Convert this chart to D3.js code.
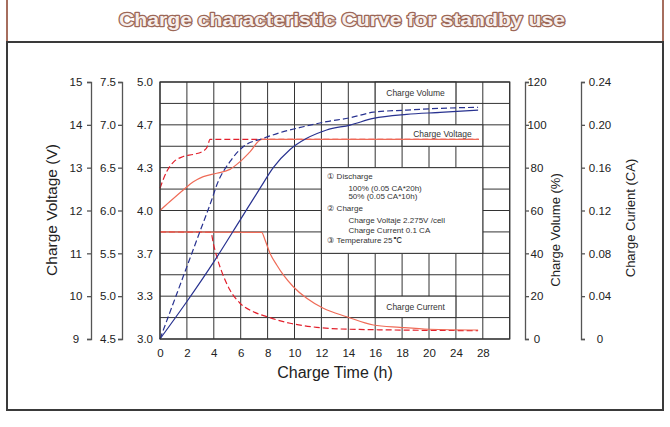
<!DOCTYPE html>
<html>
<head>
<meta charset="utf-8">
<script src="https://cdn.jsdelivr.net/npm/d3@7/dist/d3.min.js"></script>
<style>
  html, body { margin: 0; padding: 0; background: #fff; }
  svg { display: block; font-family: "Liberation Sans", Arial, sans-serif; }
</style>
</head>
<body>
<svg id="chart" width="670" height="427"></svg>
<script>
// ---------- data ----------
const titleText = "Charge characteristic Curve for standby use";
const hourTicks = [0, 2, 4, 6, 8, 10, 12, 14, 16, 18, 20, 24, 28];
const hourGrid = [0, 2, 4, 6, 8, 10, 12, 14, 16, 18, 20, 24, 28, 32];
const voltTicks = [9, 10, 11, 12, 13, 14, 15];
const volt6Ticks = [4.5, 5.0, 5.5, 6.0, 6.5, 7.0, 7.5];
const cellTickLabels = ["3.0", "3.3", "3.7", "4.0", "4.3", "4.7", "5.0"];
const pctTicks = [0, 20, 40, 60, 80, 100, 120];
const pctGrid = [0, 10, 20, 30, 40, 50, 60, 70, 80, 90, 100, 110, 120];
const caTicks = [0, 0.04, 0.08, 0.12, 0.16, 0.20, 0.24];

// [hours, volts]
const voltage100 = [[0,12.0],[0.74,12.21],[1.73,12.48],[2.48,12.67],[3.22,12.79],[4.22,12.87],[5.2,12.96],[5.95,13.14],[6.69,13.37],[7.56,13.66],[27.4,13.66]];
const voltage50 = [[0,12.52],[0.5,12.91],[1.0,13.13],[1.73,13.26],[2.48,13.31],[3.22,13.39],[3.52,13.49],[3.72,13.66],[27.4,13.66]];
// [hours, CA]
const current100 = [[0,0.1],[7.56,0.0996],[7.81,0.0925],[8.18,0.080],[8.68,0.0691],[9.17,0.0598],[9.91,0.0488],[10.91,0.038],[12.14,0.0287],[13.88,0.0208],[15.86,0.0131],[17.84,0.0109],[20.07,0.0091],[27.3,0.0084]];
const current50 = [[0,0.1],[3.79,0.0996],[3.96,0.0894],[4.22,0.0769],[4.59,0.0629],[5.2,0.0458],[5.95,0.0334],[6.94,0.0255],[7.93,0.0209],[9.67,0.0147],[11.65,0.0109],[14.13,0.0091],[27.3,0.0078]];
// [hours, %]
const volume100 = [[0,0],[2,17.5],[4,36],[6,56],[7,66],[7.5,71],[8.42,80],[9.67,88.5],[10.91,93.7],[12.39,97.6],[14.13,99.9],[15.86,103.0],[18.34,104.9],[21.64,105.8],[27.3,106.9]];
const volume50 = [[0,0],[1,16.9],[2,33.8],[3,50.7],[3.84,64.9],[4.22,71.9],[5.2,82.8],[6.19,89.8],[7.68,93.7],[9.17,96.8],[10.65,99.1],[12.39,101.5],[14.13,103.3],[15.86,105.9],[18.34,106.9],[21.64,107.7],[27.3,108.2]];

const legendLines = [
  {t: "\u2460 Discharge", indent: 0, dy: 0},
  {t: "100% (0.05 CA*20h)", indent: 1, dy: 12},
  {t: "50% (0.05 CA*10h)", indent: 1, dy: 20},
  {t: "\u2461 Charge", indent: 0, dy: 32},
  {t: "Charge Voltaje  2.275V /cell", indent: 1, dy: 44},
  {t: "Charge Current 0.1 CA", indent: 1, dy: 54},
  {t: "\u2462 Temperature 25\u2103", indent: 0, dy: 64}
];

// ---------- layout ----------
const svg = d3.select("#chart");
const L = 160, R = 509.7, T = 82, B = 339;
const colW = (R - L) / 13;

const x = d3.scaleLinear().domain([0, 20, 32]).range([L, L + 10 * colW, R]);
const yPct = d3.scaleLinear().domain([0, 120]).range([B, T]);
const yV = d3.scaleLinear().domain([9, 15]).range([B, T]);
const yV6 = d3.scaleLinear().domain([4.5, 7.5]).range([B, T]);
const yCell = d3.scalePoint().domain(cellTickLabels).range([B, T]);
const yCA = d3.scaleLinear().domain([0, 0.24]).range([B, T]);

const frameDark = "#3a3a3a", brown = "#a66e5e";

// frame
svg.append("line").attr("x1", 7).attr("x2", 7).attr("y1", 0).attr("y2", 42).attr("stroke", brown).attr("stroke-width", 2);
svg.append("line").attr("x1", 663).attr("x2", 663).attr("y1", 0).attr("y2", 42).attr("stroke", brown).attr("stroke-width", 2);
svg.append("rect").attr("x", 7).attr("y", 42).attr("width", 656).attr("height", 368)
  .attr("fill", "none").attr("stroke", frameDark).attr("stroke-width", 2);

// title
svg.append("text").attr("x", 342).attr("y", 26).attr("text-anchor", "middle")
  .attr("font-size", 18.5).attr("font-weight", "bold")
  .attr("textLength", 446).attr("lengthAdjust", "spacingAndGlyphs")
  .attr("fill", "#f7efec").attr("stroke", "#9c6757").attr("stroke-width", 2.4)
  .attr("stroke-linejoin", "round")
  .attr("paint-order", "stroke")
  .text(titleText);

// grid
const grid = svg.append("g").attr("stroke", "#333").attr("stroke-width", 1);
grid.selectAll("line.v").data(hourGrid).join("line")
  .attr("x1", d => x(d)).attr("x2", d => x(d)).attr("y1", T).attr("y2", B);
grid.selectAll("line.h").data(pctGrid).join("line")
  .attr("x1", L).attr("x2", R).attr("y1", d => yPct(d)).attr("y2", d => yPct(d));

// label boxes (cover grid)
function box(h0, h1, p0, p1) {
  svg.append("rect").attr("x", x(h0)).attr("y", yPct(p1))
    .attr("width", x(h1) - x(h0)).attr("height", yPct(p0) - yPct(p1))
    .attr("fill", "#fff").attr("stroke", "#333").attr("stroke-width", 1);
}
box(16, 24, 110, 120);
box(18, 28, 90, 100);
box(16, 24, 10, 20);
box(12, 28, 40, 80);

const smallFont = 8.5;
svg.append("text").attr("x", (x(16) + x(24)) / 2).attr("y", (yPct(110) + yPct(120)) / 2 + 3)
  .attr("text-anchor", "middle").attr("font-size", smallFont).attr("fill", "#333").text("Charge Volume");
svg.append("text").attr("x", (x(18) + x(28)) / 2).attr("y", (yPct(90) + yPct(100)) / 2 + 1)
  .attr("text-anchor", "middle").attr("font-size", smallFont).attr("fill", "#333").text("Charge Voltage");
svg.append("text").attr("x", (x(16) + x(24)) / 2).attr("y", (yPct(10) + yPct(20)) / 2 + 3)
  .attr("text-anchor", "middle").attr("font-size", smallFont).attr("fill", "#333").text("Charge Current");

// legend
const lg = svg.append("g").attr("transform", `translate(${x(12) + 6},${yPct(80) + 11})`);
lg.selectAll("text").data(legendLines).join("text")
  .attr("x", d => d.indent ? 21 : 0).attr("y", d => d.dy)
  .attr("font-size", 8).attr("fill", "#333").text(d => d.t);

// curves
const lineGen = (ys) => d3.line().x(d => x(d[0])).y(d => ys(d[1])).curve(d3.curveMonotoneX);
const redSolid = "#ef6b57", redDash = "#e2202c", blue = "#283290";
const curves = svg.append("g").attr("fill", "none").attr("stroke-width", 1.2);
curves.append("path").attr("d", lineGen(yCA)(current50)).attr("stroke", redDash).attr("stroke-dasharray", "6,3");
curves.append("path").attr("d", lineGen(yCA)(current100)).attr("stroke", redSolid);
curves.append("path").attr("d", lineGen(yV)(voltage50)).attr("stroke", redDash).attr("stroke-dasharray", "6,3");
curves.append("path").attr("d", lineGen(yV)(voltage100)).attr("stroke", redSolid);
curves.append("path").attr("d", lineGen(yPct)(volume50)).attr("stroke", blue).attr("stroke-dasharray", "6,3");
curves.append("path").attr("d", lineGen(yPct)(volume100)).attr("stroke", blue);

// plot border
svg.append("rect").attr("x", L).attr("y", T).attr("width", R - L).attr("height", B - T)
  .attr("fill", "none").attr("stroke", "#333").attr("stroke-width", 1.2);

// axes
function styleAxis(g, anchor, dx) {
  g.selectAll("path.domain").attr("stroke", "#555").attr("stroke-width", 1.3);
  g.selectAll(".tick line").attr("stroke", "#555").attr("stroke-width", 1.3);
  g.selectAll(".tick text").attr("text-anchor", anchor).attr("x", dx)
    .attr("font-size", 11.5).attr("fill", "#222").attr("font-family", "Liberation Sans, Arial, sans-serif");
}
const ax1 = svg.append("g").attr("transform", "translate(91,0)")
  .call(d3.axisLeft(yV).tickValues(voltTicks).tickSize(4).tickFormat(d3.format("d")));
styleAxis(ax1, "middle", -15);
const ax2 = svg.append("g").attr("transform", "translate(122,0)")
  .call(d3.axisLeft(yV6).tickValues(volt6Ticks).tickSize(4).tickFormat(d3.format(".1f")));
styleAxis(ax2, "middle", -14);
const ax3 = svg.append("g").attr("transform", `translate(${L},0)`)
  .call(d3.axisLeft(yCell).tickSize(0));
ax3.select("path.domain").remove();
styleAxis(ax3, "middle", -15);
const ax4 = svg.append("g").attr("transform", "translate(525,0)")
  .call(d3.axisRight(yPct).tickValues(pctTicks).tickSize(4).tickFormat(d3.format("d")));
styleAxis(ax4, "middle", 12);
const ax5 = svg.append("g").attr("transform", "translate(581,0)")
  .call(d3.axisRight(yCA).tickValues(caTicks).tickSize(4).tickFormat(d => d === 0 ? "0" : d3.format(".2f")(d)));
styleAxis(ax5, "middle", 19);
const axX = svg.append("g").attr("transform", `translate(0,${B})`)
  .call(d3.axisBottom(x).tickValues(hourTicks).tickSize(0).tickPadding(10).tickFormat(d3.format("d")));
axX.select("path.domain").remove();
axX.selectAll(".tick text").attr("font-size", 11.5).attr("fill", "#222").attr("font-family", "Liberation Sans, Arial, sans-serif");

// axis titles
svg.append("text").attr("transform", "translate(57,210) rotate(-90)").attr("text-anchor", "middle")
  .attr("font-size", 15.5).attr("fill", "#222").text("Charge Voltage (V)");
svg.append("text").attr("transform", "translate(560,230) rotate(-90)").attr("text-anchor", "middle")
  .attr("font-size", 13).attr("fill", "#222").text("Charge Volume  (%)");
svg.append("text").attr("transform", "translate(635,218) rotate(-90)").attr("text-anchor", "middle")
  .attr("font-size", 13).attr("fill", "#222").text("Charge Curient (CA)");
svg.append("text").attr("x", 335).attr("y", 378).attr("text-anchor", "middle")
  .attr("font-size", 16).attr("fill", "#222").text("Charge Time (h)");
</script>
</body>
</html>
